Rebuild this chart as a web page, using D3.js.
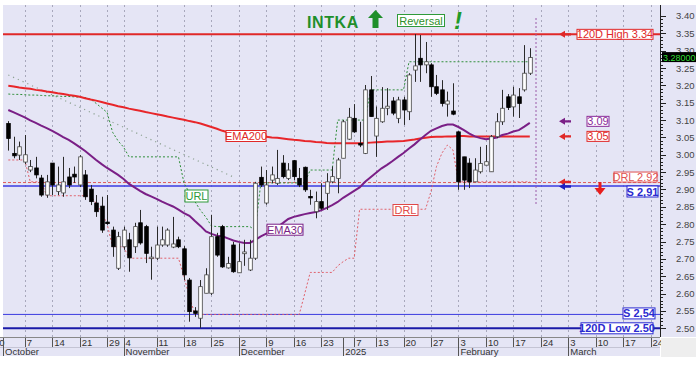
<!DOCTYPE html>
<html>
<head>
<meta charset="utf-8">
<script src="https://cdn.jsdelivr.net/npm/d3@7"></script>
<style>
body { margin: 0; background: #fff; }
svg text { font-family: "Liberation Sans", Arial, sans-serif; }
</style>
</head>
<body>
<div id="chart"></div>
<script>
// daily candles, Oct 2 2024 .. Feb 20 2025
var opens = [3.090,3.004,2.999,2.979,2.956,2.962,2.933,2.884,2.976,2.894,2.890,2.936,2.944,2.913,2.942,2.901,2.861,2.852,2.806,2.783,
  2.673,2.735,2.755,2.735,2.804,2.793,2.703,2.702,2.740,2.740,2.734,2.755,2.729,2.639,2.550,2.529,2.601,2.601,2.764,2.793,
  2.674,2.740,2.660,2.715,2.668,2.702,2.935,2.861,2.927,2.918,2.976,2.932,2.983,2.932,2.964,2.880,2.836,2.865,2.889,2.922,
  2.932,2.990,3.045,3.105,3.033,3.004,3.187,3.054,3.095,3.134,3.155,3.105,3.158,3.124,3.244,3.278,3.259,3.259,3.196,3.187,
  3.146,3.126,3.066,2.994,2.976,2.922,2.951,2.970,2.951,3.052,3.095,3.167,3.138,3.167,3.187,3.235];
var highs = [3.097,3.052,3.038,3.057,2.985,2.994,2.942,2.942,2.976,2.966,2.994,2.962,2.966,2.999,2.956,2.913,2.884,2.879,2.884,2.793,
  2.778,2.793,2.775,2.804,2.841,2.798,2.735,2.793,2.793,2.788,2.821,2.764,2.737,2.645,2.561,2.639,2.673,2.827,2.775,2.798,
  2.706,2.749,2.745,2.755,2.755,2.922,2.966,2.956,2.966,3.014,2.999,2.976,2.985,2.962,2.966,2.899,2.894,2.918,2.947,2.966,
  2.991,3.100,3.135,3.146,3.095,3.201,3.227,3.139,3.195,3.192,3.166,3.167,3.167,3.235,3.348,3.345,3.325,3.264,3.230,3.215,
  3.182,3.206,3.068,2.994,2.990,2.990,3.023,3.028,3.057,3.120,3.187,3.175,3.196,3.192,3.316,3.307];
var lows = [3.012,2.990,2.985,2.973,2.950,2.932,2.879,2.876,2.884,2.884,2.879,2.904,2.919,2.907,2.870,2.855,2.821,2.775,2.798,2.706,
  2.668,2.726,2.663,2.717,2.741,2.688,2.640,2.697,2.735,2.735,2.731,2.731,2.639,2.519,2.533,2.501,2.601,2.596,2.706,2.674,
  2.672,2.660,2.660,2.680,2.665,2.697,2.907,2.856,2.918,2.913,2.932,2.927,2.927,2.907,2.893,2.856,2.817,2.841,2.841,2.918,
  2.889,2.990,3.043,3.063,3.022,3.002,3.110,2.994,3.092,3.114,3.114,3.091,3.086,3.100,3.210,3.210,3.235,3.167,3.172,3.139,
  3.110,3.114,2.899,2.899,2.904,2.922,2.946,2.970,2.951,3.048,3.086,3.129,3.110,3.106,3.182,3.230];
var closes = [3.047,2.997,3.023,3.000,2.966,2.942,2.884,2.922,2.913,2.913,2.922,2.913,2.936,2.994,2.879,2.865,2.836,2.783,2.803,2.735,
  2.764,2.783,2.703,2.793,2.746,2.716,2.705,2.740,2.755,2.783,2.743,2.735,2.654,2.548,2.543,2.620,2.654,2.764,2.711,2.677,
  2.687,2.663,2.692,2.720,2.702,2.918,2.913,2.913,2.942,2.932,2.937,2.956,2.937,2.913,2.899,2.876,2.865,2.846,2.922,2.937,
  2.985,3.095,3.108,3.066,3.028,3.187,3.110,3.105,3.134,3.140,3.120,3.158,3.129,3.230,3.256,3.259,3.268,3.196,3.177,3.148,
  3.155,3.117,2.922,2.927,2.922,2.956,2.975,2.980,3.052,3.095,3.134,3.136,3.172,3.148,3.235,3.280];

var ema200 = [3.199,3.197,3.194,3.192,3.190,3.187,3.185,3.182,3.180,3.177,3.175,3.172,3.170,3.167,3.163,3.159,3.156,3.152,3.148,3.144,
  3.140,3.137,3.133,3.130,3.127,3.123,3.120,3.117,3.114,3.110,3.107,3.104,3.101,3.097,3.094,3.090,3.085,3.080,3.075,3.069,
  3.065,3.062,3.060,3.058,3.056,3.055,3.054,3.052,3.050,3.049,3.047,3.045,3.043,3.042,3.040,3.039,3.037,3.036,3.034,3.033,
  3.033,3.033,3.033,3.033,3.033,3.034,3.035,3.036,3.037,3.038,3.038,3.039,3.040,3.042,3.044,3.047,3.049,3.051,3.052,3.052,
  3.053,3.053,3.054,3.054,3.053,3.053,3.053,3.053,3.053,3.053,3.053,3.053,3.053,3.053,3.053,3.053];
var ema30 = [3.129,3.122,3.115,3.108,3.099,3.092,3.084,3.077,3.069,3.060,3.051,3.043,3.033,3.022,3.011,2.998,2.985,2.973,2.962,2.952,
  2.942,2.930,2.916,2.906,2.896,2.887,2.880,2.873,2.865,2.858,2.851,2.842,2.832,2.824,2.809,2.795,2.779,2.772,2.767,2.765,
  2.759,2.753,2.749,2.746,2.746,2.755,2.765,2.773,2.780,2.792,2.803,2.815,2.821,2.825,2.829,2.832,2.835,2.840,2.847,2.855,
  2.864,2.876,2.886,2.896,2.906,2.922,2.935,2.948,2.961,2.971,2.982,2.994,3.005,3.018,3.030,3.044,3.057,3.069,3.076,3.083,
  3.087,3.087,3.080,3.071,3.061,3.053,3.048,3.045,3.047,3.050,3.057,3.061,3.067,3.071,3.081,3.092];
var urlLine = [3.175,3.174,3.174,3.173,3.172,3.172,3.171,3.170,3.170,3.169,3.168,3.168,3.167,3.166,3.165,3.160,3.148,3.135,3.122,3.065,
  3.040,3.022,2.994,2.994,2.994,2.994,2.994,2.994,2.994,2.994,2.994,2.994,2.919,2.890,2.865,2.840,2.820,2.795,2.793,2.793,
  2.793,2.793,2.793,2.793,2.793,2.783,2.919,2.919,2.919,2.919,2.919,2.919,2.919,2.919,2.919,2.956,2.956,2.956,2.956,2.956,
  3.100,3.100,3.100,3.100,3.100,3.100,3.187,3.187,3.187,3.187,3.187,3.187,3.187,3.268,3.268,3.268,3.268,3.268,3.268,3.268,
  3.268,3.268,3.268,3.268,3.268,3.268,3.268,3.268,3.268,3.268,3.268,3.268,3.268,3.268,3.268,3.268];
var drlLine = [2.985,2.985,2.985,2.985,2.922,2.922,2.922,2.882,2.882,2.882,2.882,2.882,2.882,2.882,2.882,2.882,2.860,2.835,2.800,2.735,
  2.735,2.735,2.702,2.702,2.702,2.702,2.702,2.702,2.702,2.702,2.702,2.702,2.649,2.590,2.540,2.540,2.540,2.540,2.540,2.540,
  2.540,2.540,2.540,2.540,2.540,2.540,2.540,2.540,2.540,2.540,2.540,2.540,2.540,2.540,2.600,2.661,2.661,2.661,2.661,2.661,
  2.680,2.692,2.702,2.702,2.843,2.843,2.843,2.843,2.843,2.843,2.843,2.843,2.843,2.843,2.843,2.843,2.843,2.894,2.966,3.005,
  3.028,3.014,2.922,2.922,2.922,2.922,2.922,2.922,2.922,2.922,2.922,2.922,2.922,2.922,2.922,2.922];
// falling dotted trend line: [candle index, price]
var trendLine = [[0, 3.230], [41, 2.936]];

// week ticks (candle index of first trading day) and months
var dayTicks = [[-3,"30"],[3,"7"],[8,"14"],[13,"21"],[18,"29"],[21,"4"],[27,"11"],[32,"18"],[37,"25"],[42,"2"],[47,"9"],[52,"16"],
  [57,"23"],[63,"7"],[67,"13"],[72,"20"],[77,"27"],[82,"3"],[87,"10"],[92,"17"],[97,"24"],[102,"3"],[107,"10"],[112,"17"],[117,"24"]];
var monthTicks = [[-0.95,"October"],[21,"November"],[42,"December"],[61,"2025"],[82,"February"],[102,"March"]];
var yMajor = [2.50,2.55,2.60,2.65,2.70,2.75,2.80,2.85,2.90,2.95,3.00,3.05,3.10,3.15,3.20,3.25,3.30,3.35,3.40];

var W = 696, H = 375;
var plot = {left: 3, right: 660, top: 5, bottom: 337};

var svg = d3.select("#chart").append("svg")
    .attr("width", W)
    .attr("height", H);

var x = d3.scaleLinear().domain([0, 95]).range([8.3, 529.8]);
var y = d3.scaleLinear().domain([2.50, 3.35]).range([328.3, 33.3]);
var bodyW = 3.6;

// backgrounds
svg.append("rect").attr("x", 0).attr("y", 0).attr("width", W).attr("height", H).attr("fill", "#fff");
svg.append("rect").attr("x", plot.left).attr("y", plot.top).attr("width", W - plot.left).attr("height", plot.bottom - plot.top)
    .attr("fill", "#e5e5f5");
svg.append("rect").attr("x", 0).attr("y", plot.bottom).attr("width", plot.right).attr("height", 19)
    .attr("fill", "#e5e5f5");

svg.append("defs").append("clipPath").attr("id", "clip")
  .append("rect").attr("x", plot.left).attr("y", plot.top).attr("width", plot.right - plot.left).attr("height", plot.bottom - plot.top);

var g = svg.append("g").attr("clip-path", "url(#clip)");

// vertical grid
g.selectAll(".vgrid")
    .data(dayTicks)
  .enter().append("line")
    .attr("x1", function(d) { return Math.round(x(d[0])) + 0.5; })
    .attr("x2", function(d) { return Math.round(x(d[0])) + 0.5; })
    .attr("y1", plot.top).attr("y2", plot.bottom)
    .attr("stroke", "#a8a8bc").attr("stroke-width", 1).attr("stroke-dasharray", "2,3");

// horizontal levels
var levels = [
  {v: 3.347, color: "#e02828", w: 2, dash: null},
  {v: 2.92, color: "#e05a5a", w: 1, dash: "3,2"},
  {v: 2.91, color: "#3a3ae0", w: 1.3, dash: null},
  {v: 2.54, color: "#3a3ae0", w: 1, dash: null},
  {v: 2.50, color: "#1a1aa8", w: 2, dash: null}
];
g.selectAll(".level")
    .data(levels)
  .enter().append("line")
    .attr("x1", plot.left).attr("x2", plot.right)
    .attr("y1", function(d) { return y(d.v); })
    .attr("y2", function(d) { return y(d.v); })
    .attr("stroke", function(d) { return d.color; })
    .attr("stroke-width", function(d) { return d.w; })
    .attr("stroke-dasharray", function(d) { return d.dash; });

var line = function(arr) {
  return d3.line()
    .x(function(d, i) { return x(i); })
    .y(function(d) { return y(d); })(arr);
};

// faint trend line
g.append("path")
    .attr("d", d3.line().x(function(d) { return x(d[0]); }).y(function(d) { return y(d[1]); })(trendLine))
    .attr("fill", "none").attr("stroke", "#8fa394").attr("stroke-width", 1.2).attr("stroke-dasharray", "1.2,4");

// URL / DRL stepped lines
g.append("path").attr("d", line(urlLine)).attr("fill", "none")
    .attr("stroke", "#2f8f3a").attr("stroke-width", 1).attr("stroke-dasharray", "2,2");
g.append("path").attr("d", line(drlLine)).attr("fill", "none")
    .attr("stroke", "#e0606a").attr("stroke-width", 1).attr("stroke-dasharray", "2,2");

// EMAs
g.append("path").attr("d", line(ema200)).attr("fill", "none")
    .attr("stroke", "#e8262a").attr("stroke-width", 2);
g.append("path").attr("d", line(ema30)).attr("fill", "none")
    .attr("stroke", "#7a1f86").attr("stroke-width", 2);

// candles
var idx = d3.range(opens.length);
g.selectAll(".wick")
    .data(idx)
  .enter().append("line")
    .attr("x1", function(i) { return Math.round(x(i)) + 0.5; })
    .attr("x2", function(i) { return Math.round(x(i)) + 0.5; })
    .attr("y1", function(i) { return y(highs[i]); })
    .attr("y2", function(i) { return y(lows[i]); })
    .attr("stroke", "#2a2a2a").attr("stroke-width", 1);

g.selectAll(".body")
    .data(idx)
  .enter().append("rect")
    .attr("x", function(i) { return Math.round(x(i)) + 0.5 - bodyW / 2; })
    .attr("width", bodyW)
    .attr("y", function(i) { return y(Math.max(opens[i], closes[i])); })
    .attr("height", function(i) { return Math.max(1.5, Math.abs(y(opens[i]) - y(closes[i]))); })
    .attr("fill", function(i) { return closes[i] >= opens[i] ? "#fff" : "#000"; })
    .attr("stroke", function(i) { return closes[i] >= opens[i] ? "#444" : "#000"; })
    .attr("stroke-width", 0.8);

// today marker
g.append("line").attr("x1", 536).attr("x2", 536).attr("y1", 18).attr("y2", 205)
    .attr("stroke", "#9a5aa8").attr("stroke-width", 1).attr("stroke-dasharray", "2,2");

// labels on lines
function tag(cx, cy, w, h, txt, color, bold) {
  svg.append("rect").attr("x", cx).attr("y", cy - h / 2).attr("width", w).attr("height", h)
      .attr("fill", "#fff").attr("stroke", color).attr("stroke-width", 1);
  svg.append("text").attr("x", cx + w / 2).attr("y", cy + 4).attr("text-anchor", "middle")
      .attr("font-size", 11).attr("font-weight", bold ? "bold" : "normal").attr("fill", color).text(txt);
}
tag(226, 136, 40, 11, "EMA200", "#e02828");
tag(267, 229.7, 36, 11, "EMA30", "#7a1f86");
tag(185, 196, 23, 12, "URL", "#2f9a3a");
tag(393, 210, 25, 11, "DRL", "#e04848");

// right side annotations
tag(577, y(3.347), 76, 10, "120D High 3.34", "#e02828");
tag(587, y(ema30[95]) - 1.5, 22, 10, "3.09", "#8a2b9a");
tag(587, y(ema200[95]), 22, 10, "3,05", "#e02828");
tag(614, y(2.92) - 5.5, 43, 10, "DRL 2.92", "#e05050");
tag(627, y(2.91) + 5.5, 31, 11, "S 2,91", "#2a2ad0", true);
tag(623, y(2.54) - 1, 32, 11, "S 2,54", "#2a2ad0", true);
tag(581, y(2.50), 72, 11, "120D Low 2.50", "#2a2ad0", true);

function leftArrow(ax, ay, color) {
  svg.append("path")
      .attr("d", "M" + ax + "," + ay + "l6,-3.5v2.3h6v2.4h-6v2.3z")
      .attr("fill", color);
}
leftArrow(559, y(3.347), "#e02828");
leftArrow(559, y(ema30[95]) - 1.5, "#7a1f86");
leftArrow(559, y(ema200[95]), "#e02828");
leftArrow(559, y(2.92) - 0.5, "#e02828");
leftArrow(559, y(2.91) + 0.5, "#2020c0");
// red down arrow
svg.append("path").attr("d", "M598.5,182v6h-4l5.5,7l5.5,-7h-4v-6z").attr("fill", "#e81e1e");

// title
svg.append("text").attr("x", 307).attr("y", 28).attr("font-size", 16).attr("font-weight", "bold")
    .attr("letter-spacing", 0.6).attr("fill", "#1f8f2a").text("INTKA");
svg.append("path").attr("d", "M375.5,10l7.5,8h-4.5v10h-6v-10h-4.5z").attr("fill", "#1f8f2a");
svg.append("rect").attr("x", 397.5).attr("y", 14.5).attr("width", 47).attr("height", 12)
    .attr("fill", "#fff").attr("stroke", "#2f9a3a");
svg.append("text").attr("x", 421).attr("y", 24.5).attr("text-anchor", "middle").attr("font-size", 11)
    .attr("fill", "#2f8f2a").text("Reversal");
svg.append("text").attr("x", 454).attr("y", 29).attr("font-size", 24).attr("font-weight", "bold")
    .attr("font-style", "italic").attr("fill", "#1f9a2a").text("!");

// y axis
svg.append("line").attr("x1", plot.right + 0.5).attr("x2", plot.right + 0.5).attr("y1", plot.top).attr("y2", plot.bottom)
    .attr("stroke", "#222");
var minor = d3.range(250, 341).map(function(v) { return v / 100; });
svg.selectAll(".ymin")
    .data(minor)
  .enter().append("line")
    .attr("x1", plot.right).attr("x2", plot.right + 3)
    .attr("y1", function(d) { return Math.round(y(d)) + 0.5; })
    .attr("y2", function(d) { return Math.round(y(d)) + 0.5; })
    .attr("stroke", "#222");
svg.selectAll(".ymaj")
    .data(yMajor)
  .enter().append("line")
    .attr("x1", plot.right).attr("x2", plot.right + 6)
    .attr("y1", function(d) { return Math.round(y(d)) + 0.5; })
    .attr("y2", function(d) { return Math.round(y(d)) + 0.5; })
    .attr("stroke", "#222");
svg.selectAll(".ylab")
    .data(yMajor)
  .enter().append("text")
    .attr("x", 676).attr("y", function(d) { return y(d) + 3.5; })
    .attr("font-size", 9.5).attr("fill", "#444")
    .text(function(d) { return d.toFixed(2); });

// last price tag
svg.append("rect").attr("x", 662).attr("y", y(closes[95]) - 5.5).attr("width", 40).attr("height", 10).attr("fill", "#000");
svg.append("text").attr("x", 663).attr("y", y(closes[95]) + 3).attr("font-size", 9).attr("fill", "#33dd33")
    .text(closes[95].toFixed(5));

// x axis rows
var xa = svg.append("g");
xa.append("line").attr("x1", 0).attr("x2", plot.right).attr("y1", 337.5).attr("y2", 337.5).attr("stroke", "#888");
xa.append("line").attr("x1", 0).attr("x2", plot.right).attr("y1", 347.5).attr("y2", 347.5).attr("stroke", "#c4c4d4");
xa.selectAll(".dtick")
    .data(dayTicks.filter(function(d) { return x(d[0]) < plot.right; }))
  .enter().append("line")
    .attr("x1", function(d) { return Math.round(x(d[0])) + 0.5; })
    .attr("x2", function(d) { return Math.round(x(d[0])) + 0.5; })
    .attr("y1", 338).attr("y2", 347)
    .attr("stroke", "#555");
xa.selectAll(".dlab")
    .data(dayTicks)
  .enter().append("text")
    .attr("x", function(d) { return x(d[0]) + 2; })
    .attr("y", 346.3)
    .attr("font-size", 9.5).attr("fill", "#333")
    .text(function(d) { return d[1]; });
xa.selectAll(".mtick")
    .data(monthTicks)
  .enter().append("line")
    .attr("x1", function(d) { return Math.round(x(d[0])) + 0.5; })
    .attr("x2", function(d) { return Math.round(x(d[0])) + 0.5; })
    .attr("y1", 338).attr("y2", 356)
    .attr("stroke", "#555");
xa.selectAll(".mlab")
    .data(monthTicks)
  .enter().append("text")
    .attr("x", function(d) { return x(d[0]) + 2; })
    .attr("y", 355)
    .attr("font-size", 9.5).attr("fill", "#333")
    .text(function(d) { return d[1]; });
// cover right overflow of the date labels
svg.append("rect").attr("x", plot.right + 1).attr("y", plot.bottom + 1).attr("width", W - plot.right).attr("height", 19)
    .attr("fill", "#eeeeee");
</script>
</body>
</html>
